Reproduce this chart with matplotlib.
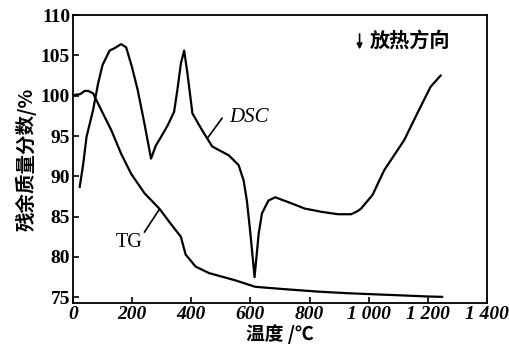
import matplotlib
matplotlib.use('Agg')
import matplotlib.pyplot as plt

# TG curve (residual mass, %)
tg_x = [7, 25, 40, 51, 68, 96, 130, 163, 197, 242, 292, 331, 365, 381, 415, 460, 549, 616, 717, 829, 930, 997, 1100, 1198, 1248]
tg_y = [100.1, 100.2, 100.6, 100.6, 100.3, 98.2, 95.7, 92.8, 90.3, 87.9, 86.0, 84.1, 82.5, 80.3, 78.8, 78.0, 77.1, 76.3, 76.0, 75.7, 75.5, 75.4, 75.25, 75.1, 75.05]

# DSC curve (same axis scale)
dsc_x = [23, 35, 46, 68, 85, 100, 124, 141, 163, 180, 200, 219, 242, 264, 280, 298, 320, 342, 353, 365, 376, 387, 404, 437, 471, 527, 560, 577, 588, 600, 614, 628, 639, 661, 684, 728, 784, 840, 896, 941, 963, 974, 1013, 1036, 1053, 1120, 1164, 1209, 1243]
dsc_y = [88.7, 91.6, 94.9, 98.2, 101.5, 103.8, 105.6, 105.9, 106.4, 106.0, 103.5, 100.7, 96.5, 92.2, 93.8, 94.9, 96.3, 98.0, 100.7, 104.0, 105.6, 102.8, 97.8, 95.7, 93.7, 92.6, 91.4, 89.5, 87.0, 82.9, 77.5, 82.9, 85.4, 87.0, 87.4, 86.8, 86.0, 85.6, 85.3, 85.3, 85.7, 86.0, 87.7, 89.5, 90.8, 94.5, 97.8, 101.1, 102.5]

x_ticks = [0, 200, 400, 600, 800, 1000, 1200, 1400]
x_tick_labels = ['0', '200', '400', '600', '800', '1 000', '1 200', '1 400']
y_ticks = [75, 80, 85, 90, 95, 100, 105, 110]

cjk = ['Noto Sans CJK SC', 'DejaVu Sans']
serif = 'Liberation Serif'

fig = plt.figure(figsize=(5.10, 3.51), dpi=100)
ax = fig.add_axes([0.143, 0.137, 0.812, 0.82])

ax.plot(tg_x, tg_y, color='black', lw=1.6)
ax.plot(dsc_x, dsc_y, color='black', lw=1.6)

ax.set_xlim(0, 1390)
ax.set_ylim(74.3, 110)
ax.set_xticks(x_ticks)
ax.set_xticklabels(x_tick_labels, family=serif, style='italic', fontsize=14, fontweight='bold')
ax.set_yticks(y_ticks)
ax.set_yticklabels([str(v) for v in y_ticks], family=serif, fontsize=14, fontweight='bold')
ax.tick_params(direction='in', length=4, width=1.2, pad=2)
for s in ax.spines.values():
    s.set_linewidth(1.3)

ax.set_xlabel('温度 /℃', family=cjk, fontsize=13.5, fontweight='bold', labelpad=1)
ax.set_ylabel('残余质量分数/%', family=cjk, fontsize=14, fontweight='bold', labelpad=3)

# curve labels with leader lines
ax.plot([504, 454], [97.2, 94.7], color='black', lw=1.2)
ax.text(527, 97.3, 'DSC', family=serif, style='italic', fontsize=15, va='center', ha='left')
ax.plot([242, 292], [83.1, 85.9], color='black', lw=1.2)
ax.text(191, 81.8, 'TG', family=serif, fontsize=14.5, va='center', ha='center')

# exothermic direction
ax.annotate('', xy=(969, 105.4), xytext=(969, 108.0),
            arrowprops=dict(arrowstyle='-|>', color='black', lw=1.2, mutation_scale=8))
ax.text(1003, 106.9, '放热方向', family=cjk, fontsize=14.5, fontweight='bold', va='center', ha='left')

fig.savefig('out.png', dpi=100)
